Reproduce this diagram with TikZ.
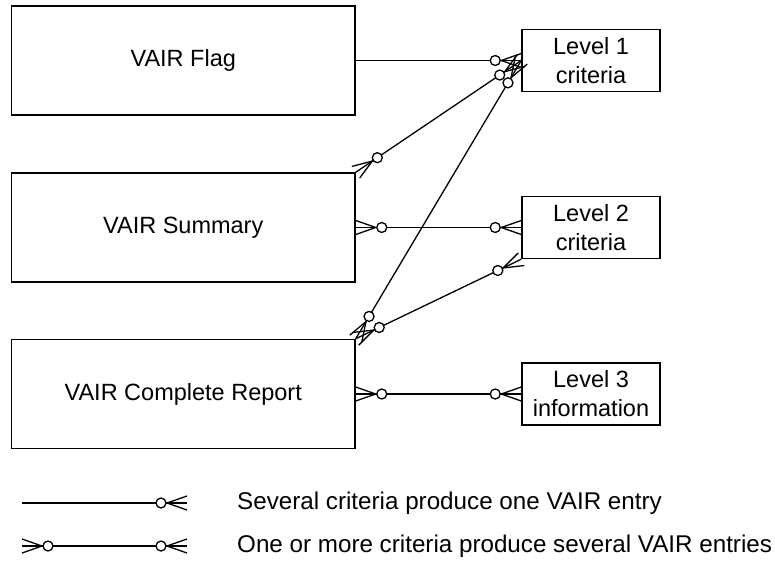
\documentclass[tikz,border=0pt]{standalone}
\usepackage{fontspec}
\setmainfont{Liberation Sans}
\usetikzlibrary{calc}

\tikzset{
  bigbox/.style={draw, line width=1.5pt, minimum width=343.5pt, minimum height=109pt,
    inner sep=0pt, font=\fontsize{23.5}{28}\selectfont},
  lvlbox/.style={draw, line width=1.5pt, minimum width=138pt, minimum height=62pt,
    inner sep=0pt, align=center, font=\fontsize{23.5}{29}\selectfont},
  conn/.style={line width=1.3pt},
  legtext/.style={anchor=west, inner sep=0pt, font=\fontsize{24.2}{28}\selectfont},
}

% crow's foot with circle at end #1 (on a box), pointing towards #2
\newcommand{\crowmark}[2]{%
  \draw[conn] ($(#1)!7pt!90:(#2)$) -- ($(#1)!20pt!(#2)$) -- ($(#1)!7pt!-90:(#2)$);
  \draw[conn, fill=white] ($(#1)!26pt!(#2)$) circle[radius=5pt];
}

\begin{document}
\begin{tikzpicture}[x=1pt,y=-1pt]
\useasboundingbox (0,0) rectangle (775,569);

\node[bigbox] (flag) at (183.25,60.5) {VAIR Flag};
\node[bigbox] (sum) at (183.25,227.5) {VAIR Summary};
\node[bigbox] (rep) at (183.25,394) {VAIR Complete Report};

\node[lvlbox] (l1) at (591,60.5) {Level 1\\criteria};
\node[lvlbox] (l2) at (591,227.5) {Level 2\\criteria};
\node[lvlbox] (l3) at (591,394) {Level 3\\information};

% connectors
\draw[conn] (flag.east) -- (l1.west);
\draw[conn] (sum.north east) -- (l1.west);
\draw[conn] (rep.north east) -- (l1.west);
\draw[conn] (sum.east) -- (l2.west);
\draw[conn] (rep.north east) -- (l2.south west);
\draw[conn] (rep.east) -- (l3.west);

% markers
\crowmark{l1.west}{flag.east}
\crowmark{l1.west}{sum.north east}
\crowmark{sum.north east}{l1.west}
\crowmark{l1.west}{rep.north east}
\crowmark{rep.north east}{l1.west}
\crowmark{sum.east}{l2.west}
\crowmark{l2.west}{sum.east}
\crowmark{rep.north east}{l2.south west}
\crowmark{l2.south west}{rep.north east}
\crowmark{rep.east}{l3.west}
\crowmark{l3.west}{rep.east}

% legend
\coordinate (a1) at (22,503);
\coordinate (b1) at (187,503);
\coordinate (a2) at (22,546);
\coordinate (b2) at (187,546);
\draw[conn] (a1) -- (b1);
\draw[conn] (a2) -- (b2);
\crowmark{b1}{a1}
\crowmark{a2}{b2}
\crowmark{b2}{a2}
\node[legtext] (t1) at (237,503) {Several criteria produce one VAIR entry};
\node[legtext] (t2) at (237,546) {One or more criteria produce several VAIR entries};
\end{tikzpicture}
\end{document}
